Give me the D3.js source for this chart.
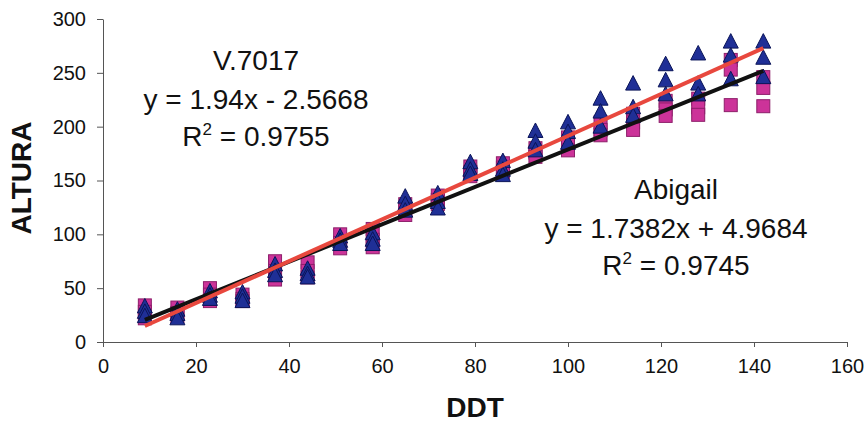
<!DOCTYPE html>
<html>
<head>
<meta charset="utf-8">
<script src="https://cdn.jsdelivr.net/npm/d3@7"></script>
<style>
  body { margin: 0; background: #fff; }
  svg { font-family: Arial, "Liberation Sans", sans-serif; }
  .axis path, .axis line { stroke: #555; }
  .axis text { font-size: 20px; fill: #111; }
  .label { font-size: 28px; font-weight: bold; fill: #111; }
  .eq { font-size: 28px; fill: #111; }
</style>
</head>
<body>
<svg width="868" height="424"></svg>
<script>
// **** Data ****

var days = [9, 16, 23, 30, 37, 44, 51, 58, 65, 72, 79, 86, 93, 100, 107, 114, 121, 128, 135, 142];

// V.7017 heights (three plants per date)
var v7017 = [
    [33, 28, 24], [30, 26, 22], [47, 43, 40], [46, 42, 38], [72, 66, 62],
    [68, 63, 60], [98, 94, 91], [101, 95, 91], [135, 128, 122], [138, 130, 124],
    [167, 160, 156], [168, 160, 155], [196, 186, 178], [204, 195, 185], [226, 214, 200],
    [240, 218, 210], [258, 243, 230], [268, 240, 230], [279, 266, 244], [279, 264, 246]
];

// Abigail heights (three plants per date)
var abigail = [
    [34, 28, 22], [32, 27, 24], [50, 44, 38], [44, 40, 38], [75, 66, 58],
    [74, 66, 60], [100, 92, 87], [105, 95, 88], [128, 122, 118], [136, 132, 128],
    [163, 158, 154], [166, 162, 158], [180, 176, 172], [190, 183, 178], [204, 197, 192],
    [212, 204, 197], [224, 216, 210], [226, 218, 211], [262, 253, 220], [246, 236, 219]
];

// linear trend lines: [slope, intercept]
var trendV7017 = [1.94, -2.5668];
var trendAbigail = [1.7382, 4.9684];

var xTicks = [0, 20, 40, 60, 80, 100, 120, 140, 160];
var yTicks = [0, 50, 100, 150, 200, 250, 300];

// **** Scales and axes ****

var xScale = d3.scaleLinear().domain([0, 160]).range([103, 847]);
var yScale = d3.scaleLinear().domain([0, 300]).range([342, 19]);

var svg = d3.select('svg');

svg.append('g').attr('class', 'x axis')
    .attr('transform', 'translate(0,342)')
    .call(d3.axisBottom(xScale).tickValues(xTicks).tickSize(5).tickSizeOuter(0).tickPadding(15))
    .selectAll('text').attr('dy', '0.55em');

svg.append('g').attr('class', 'y axis')
    .attr('transform', 'translate(103,0)')
    .call(d3.axisLeft(yScale).tickValues(yTicks).tickSize(6).tickSizeOuter(0).tickPadding(11));

// flatten series into points
function points(series) {
    var out = [];
    series.forEach(function(vals, i) {
        vals.forEach(function(v) { out.push({ x: days[i], y: v }); });
    });
    return out;
}

// **** Markers ****

svg.append('g').selectAll('rect')
    .data(points(abigail))
    .enter()
    .append('rect')
    .attr('x', function(d) { return xScale(d.x) - 6.5; })
    .attr('y', function(d) { return yScale(d.y) - 6.5; })
    .attr('width', 13)
    .attr('height', 13)
    .attr('fill', '#cc3399')
    .attr('stroke', '#8d1f6a')
    .attr('stroke-width', 1);

svg.append('g').selectAll('path')
    .data(points(v7017))
    .enter()
    .append('path')
    .attr('d', 'M0,-8L7.5,6.5L-7.5,6.5Z')
    .attr('transform', function(d) {
        return 'translate(' + xScale(d.x) + ',' + yScale(d.y) + ')';
    })
    .attr('fill', '#1f2f96')
    .attr('stroke', '#0a1458')
    .attr('stroke-width', 1);

// **** Trend lines ****

var xExt = d3.extent(days);
var line = d3.line()
    .x(function(d) { return xScale(d[0]); })
    .y(function(d) { return yScale(d[1]); });

function trend(coef) {
    return xExt.map(function(x) { return [x, coef[0] * x + coef[1]]; });
}

svg.append('path')
    .attr('d', line(trend(trendAbigail)))
    .attr('stroke', '#111')
    .attr('stroke-width', 4)
    .attr('fill', 'none');

svg.append('path')
    .attr('d', line(trend(trendV7017)))
    .attr('stroke', '#e8483e')
    .attr('stroke-width', 4)
    .attr('fill', 'none');

// **** Labels ****

svg.append('text')
    .attr('class', 'label')
    .attr('text-anchor', 'middle')
    .attr('x', 475)
    .attr('y', 417)
    .text('DDT');

svg.append('text')
    .attr('class', 'label')
    .attr('text-anchor', 'middle')
    .attr('transform', 'translate(31,178) rotate(-90)')
    .text('ALTURA');

function equation(cx, top, name, coef, r2) {
    var g = svg.append('g').attr('class', 'eq');
    g.append('text').attr('class', 'eq').attr('text-anchor', 'middle')
        .attr('x', cx).attr('y', top).text(name);
    var b = Math.abs(coef[1]);
    g.append('text').attr('class', 'eq').attr('text-anchor', 'middle')
        .attr('x', cx).attr('y', top + 39)
        .text('y = ' + coef[0] + 'x ' + (coef[1] < 0 ? '- ' : '+ ') + b);
    var t = g.append('text').attr('class', 'eq').attr('text-anchor', 'middle')
        .attr('x', cx).attr('y', top + 76);
    t.append('tspan').text('R');
    t.append('tspan').attr('dy', -11).attr('font-size', 17).text('2');
    t.append('tspan').attr('dy', 11).text(' = ' + r2);
}

equation(256, 70, 'V.7017', trendV7017, '0.9755');
equation(676, 199, 'Abigail', trendAbigail, '0.9745');
</script>
</body>
</html>
